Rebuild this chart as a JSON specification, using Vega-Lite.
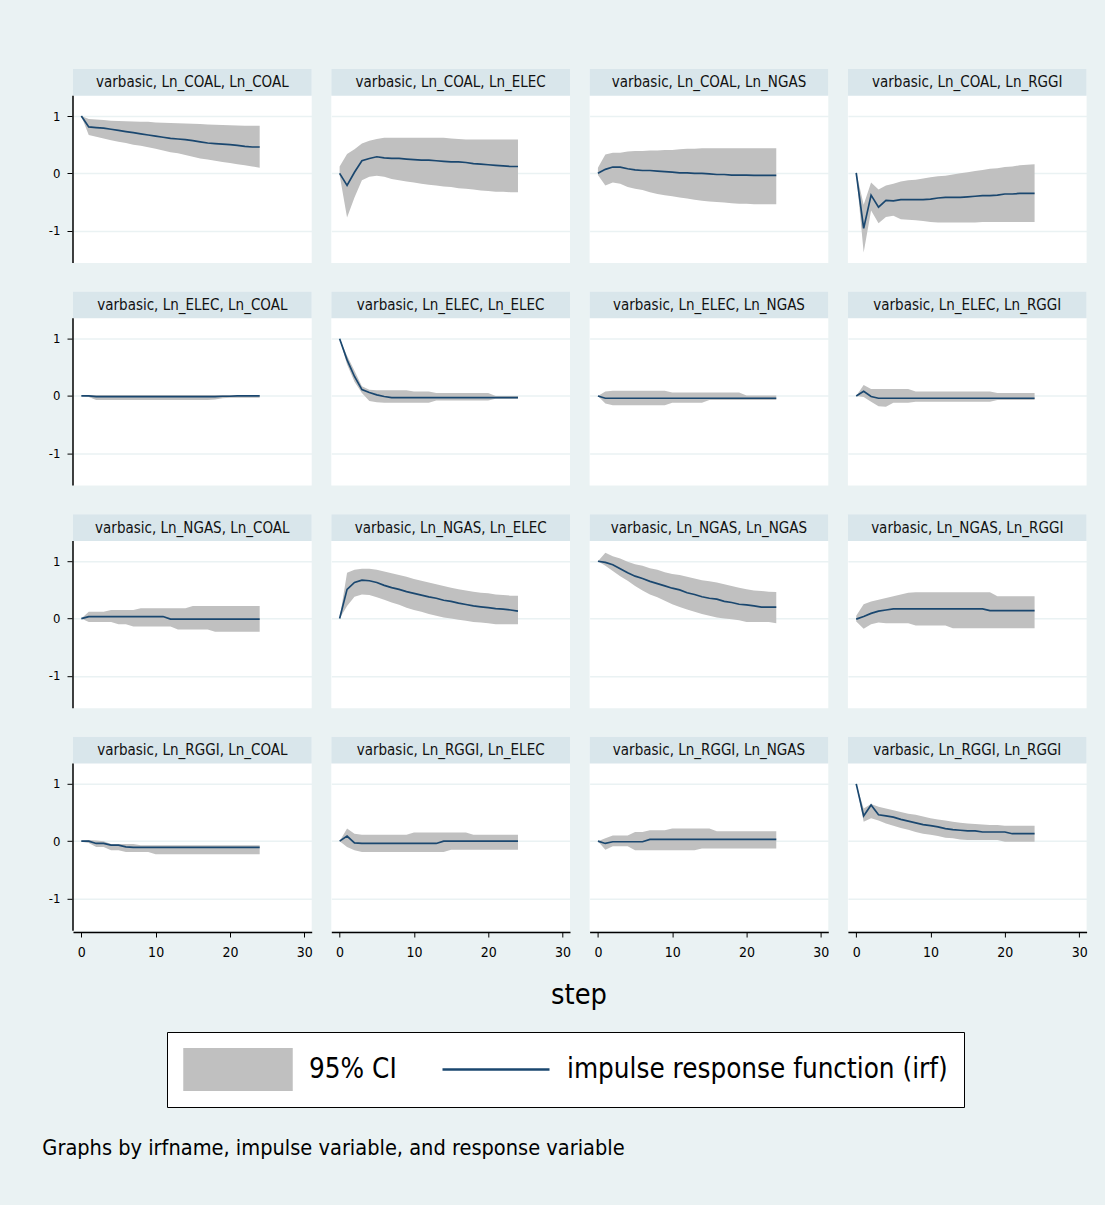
{
"$schema": "https://vega.github.io/schema/vega-lite/v6.json",
"background": "#EAF2F3",
"padding": {"left": 42, "top": 69, "right": 17, "bottom": 45},
"title": {"text": "Graphs by irfname, impulse variable, and response variable", "orient": "bottom", "anchor": "start", "font": "DejaVu Sans Condensed, DejaVu Sans, sans-serif", "fontSize": 21.6, "fontWeight": "normal", "color": "#000000", "offset": 30, "dx": -6},
"data": {"values": [
{"panel":"varbasic, Ln_COAL, Ln_COAL","step":0,"irf":1,"lo":1,"hi":1},
{"panel":"varbasic, Ln_COAL, Ln_COAL","step":1,"irf":0.81,"lo":0.67,"hi":0.95},
{"panel":"varbasic, Ln_COAL, Ln_COAL","step":2,"irf":0.8,"lo":0.64,"hi":0.94},
{"panel":"varbasic, Ln_COAL, Ln_COAL","step":3,"irf":0.79,"lo":0.61,"hi":0.93},
{"panel":"varbasic, Ln_COAL, Ln_COAL","step":4,"irf":0.77,"lo":0.58,"hi":0.92},
{"panel":"varbasic, Ln_COAL, Ln_COAL","step":5,"irf":0.75,"lo":0.55,"hi":0.915},
{"panel":"varbasic, Ln_COAL, Ln_COAL","step":6,"irf":0.73,"lo":0.53,"hi":0.91},
{"panel":"varbasic, Ln_COAL, Ln_COAL","step":7,"irf":0.71,"lo":0.5,"hi":0.905},
{"panel":"varbasic, Ln_COAL, Ln_COAL","step":8,"irf":0.69,"lo":0.48,"hi":0.9},
{"panel":"varbasic, Ln_COAL, Ln_COAL","step":9,"irf":0.67,"lo":0.455,"hi":0.9},
{"panel":"varbasic, Ln_COAL, Ln_COAL","step":10,"irf":0.65,"lo":0.43,"hi":0.89},
{"panel":"varbasic, Ln_COAL, Ln_COAL","step":11,"irf":0.63,"lo":0.4,"hi":0.885},
{"panel":"varbasic, Ln_COAL, Ln_COAL","step":12,"irf":0.61,"lo":0.37,"hi":0.88},
{"panel":"varbasic, Ln_COAL, Ln_COAL","step":13,"irf":0.6,"lo":0.35,"hi":0.875},
{"panel":"varbasic, Ln_COAL, Ln_COAL","step":14,"irf":0.59,"lo":0.32,"hi":0.87},
{"panel":"varbasic, Ln_COAL, Ln_COAL","step":15,"irf":0.57,"lo":0.29,"hi":0.865},
{"panel":"varbasic, Ln_COAL, Ln_COAL","step":16,"irf":0.55,"lo":0.26,"hi":0.86},
{"panel":"varbasic, Ln_COAL, Ln_COAL","step":17,"irf":0.53,"lo":0.24,"hi":0.855},
{"panel":"varbasic, Ln_COAL, Ln_COAL","step":18,"irf":0.52,"lo":0.22,"hi":0.85},
{"panel":"varbasic, Ln_COAL, Ln_COAL","step":19,"irf":0.51,"lo":0.2,"hi":0.845},
{"panel":"varbasic, Ln_COAL, Ln_COAL","step":20,"irf":0.5,"lo":0.18,"hi":0.84},
{"panel":"varbasic, Ln_COAL, Ln_COAL","step":21,"irf":0.49,"lo":0.16,"hi":0.835},
{"panel":"varbasic, Ln_COAL, Ln_COAL","step":22,"irf":0.47,"lo":0.14,"hi":0.83},
{"panel":"varbasic, Ln_COAL, Ln_COAL","step":23,"irf":0.46,"lo":0.12,"hi":0.83},
{"panel":"varbasic, Ln_COAL, Ln_COAL","step":24,"irf":0.46,"lo":0.1,"hi":0.83},
{"panel":"varbasic, Ln_COAL, Ln_ELEC","step":0,"irf":0,"lo":-0.03,"hi":0.12},
{"panel":"varbasic, Ln_COAL, Ln_ELEC","step":1,"irf":-0.21,"lo":-0.77,"hi":0.34},
{"panel":"varbasic, Ln_COAL, Ln_ELEC","step":2,"irf":0.02,"lo":-0.42,"hi":0.42},
{"panel":"varbasic, Ln_COAL, Ln_ELEC","step":3,"irf":0.22,"lo":-0.12,"hi":0.52},
{"panel":"varbasic, Ln_COAL, Ln_ELEC","step":4,"irf":0.26,"lo":-0.06,"hi":0.57},
{"panel":"varbasic, Ln_COAL, Ln_ELEC","step":5,"irf":0.29,"lo":-0.04,"hi":0.6},
{"panel":"varbasic, Ln_COAL, Ln_ELEC","step":6,"irf":0.27,"lo":-0.06,"hi":0.62},
{"panel":"varbasic, Ln_COAL, Ln_ELEC","step":7,"irf":0.26,"lo":-0.1,"hi":0.62},
{"panel":"varbasic, Ln_COAL, Ln_ELEC","step":8,"irf":0.26,"lo":-0.12,"hi":0.62},
{"panel":"varbasic, Ln_COAL, Ln_ELEC","step":9,"irf":0.25,"lo":-0.14,"hi":0.62},
{"panel":"varbasic, Ln_COAL, Ln_ELEC","step":10,"irf":0.24,"lo":-0.16,"hi":0.62},
{"panel":"varbasic, Ln_COAL, Ln_ELEC","step":11,"irf":0.23,"lo":-0.18,"hi":0.62},
{"panel":"varbasic, Ln_COAL, Ln_ELEC","step":12,"irf":0.23,"lo":-0.2,"hi":0.62},
{"panel":"varbasic, Ln_COAL, Ln_ELEC","step":13,"irf":0.22,"lo":-0.21,"hi":0.62},
{"panel":"varbasic, Ln_COAL, Ln_ELEC","step":14,"irf":0.21,"lo":-0.23,"hi":0.62},
{"panel":"varbasic, Ln_COAL, Ln_ELEC","step":15,"irf":0.2,"lo":-0.24,"hi":0.61},
{"panel":"varbasic, Ln_COAL, Ln_ELEC","step":16,"irf":0.2,"lo":-0.26,"hi":0.6},
{"panel":"varbasic, Ln_COAL, Ln_ELEC","step":17,"irf":0.19,"lo":-0.27,"hi":0.59},
{"panel":"varbasic, Ln_COAL, Ln_ELEC","step":18,"irf":0.17,"lo":-0.28,"hi":0.59},
{"panel":"varbasic, Ln_COAL, Ln_ELEC","step":19,"irf":0.16,"lo":-0.3,"hi":0.59},
{"panel":"varbasic, Ln_COAL, Ln_ELEC","step":20,"irf":0.15,"lo":-0.31,"hi":0.59},
{"panel":"varbasic, Ln_COAL, Ln_ELEC","step":21,"irf":0.14,"lo":-0.32,"hi":0.59},
{"panel":"varbasic, Ln_COAL, Ln_ELEC","step":22,"irf":0.13,"lo":-0.32,"hi":0.59},
{"panel":"varbasic, Ln_COAL, Ln_ELEC","step":23,"irf":0.12,"lo":-0.33,"hi":0.59},
{"panel":"varbasic, Ln_COAL, Ln_ELEC","step":24,"irf":0.12,"lo":-0.33,"hi":0.59},
{"panel":"varbasic, Ln_COAL, Ln_NGAS","step":0,"irf":0,"lo":-0.03,"hi":0.1},
{"panel":"varbasic, Ln_COAL, Ln_NGAS","step":1,"irf":0.07,"lo":-0.21,"hi":0.33},
{"panel":"varbasic, Ln_COAL, Ln_NGAS","step":2,"irf":0.11,"lo":-0.16,"hi":0.36},
{"panel":"varbasic, Ln_COAL, Ln_NGAS","step":3,"irf":0.11,"lo":-0.18,"hi":0.36},
{"panel":"varbasic, Ln_COAL, Ln_NGAS","step":4,"irf":0.08,"lo":-0.24,"hi":0.38},
{"panel":"varbasic, Ln_COAL, Ln_NGAS","step":5,"irf":0.06,"lo":-0.27,"hi":0.39},
{"panel":"varbasic, Ln_COAL, Ln_NGAS","step":6,"irf":0.05,"lo":-0.29,"hi":0.39},
{"panel":"varbasic, Ln_COAL, Ln_NGAS","step":7,"irf":0.05,"lo":-0.33,"hi":0.4},
{"panel":"varbasic, Ln_COAL, Ln_NGAS","step":8,"irf":0.04,"lo":-0.36,"hi":0.4},
{"panel":"varbasic, Ln_COAL, Ln_NGAS","step":9,"irf":0.03,"lo":-0.38,"hi":0.41},
{"panel":"varbasic, Ln_COAL, Ln_NGAS","step":10,"irf":0.02,"lo":-0.4,"hi":0.41},
{"panel":"varbasic, Ln_COAL, Ln_NGAS","step":11,"irf":0.01,"lo":-0.42,"hi":0.42},
{"panel":"varbasic, Ln_COAL, Ln_NGAS","step":12,"irf":0.01,"lo":-0.44,"hi":0.43},
{"panel":"varbasic, Ln_COAL, Ln_NGAS","step":13,"irf":0,"lo":-0.46,"hi":0.43},
{"panel":"varbasic, Ln_COAL, Ln_NGAS","step":14,"irf":0,"lo":-0.48,"hi":0.44},
{"panel":"varbasic, Ln_COAL, Ln_NGAS","step":15,"irf":-0.01,"lo":-0.49,"hi":0.44},
{"panel":"varbasic, Ln_COAL, Ln_NGAS","step":16,"irf":-0.02,"lo":-0.5,"hi":0.44},
{"panel":"varbasic, Ln_COAL, Ln_NGAS","step":17,"irf":-0.02,"lo":-0.51,"hi":0.44},
{"panel":"varbasic, Ln_COAL, Ln_NGAS","step":18,"irf":-0.03,"lo":-0.52,"hi":0.44},
{"panel":"varbasic, Ln_COAL, Ln_NGAS","step":19,"irf":-0.03,"lo":-0.53,"hi":0.44},
{"panel":"varbasic, Ln_COAL, Ln_NGAS","step":20,"irf":-0.03,"lo":-0.53,"hi":0.44},
{"panel":"varbasic, Ln_COAL, Ln_NGAS","step":21,"irf":-0.035,"lo":-0.54,"hi":0.44},
{"panel":"varbasic, Ln_COAL, Ln_NGAS","step":22,"irf":-0.035,"lo":-0.54,"hi":0.44},
{"panel":"varbasic, Ln_COAL, Ln_NGAS","step":23,"irf":-0.035,"lo":-0.54,"hi":0.44},
{"panel":"varbasic, Ln_COAL, Ln_NGAS","step":24,"irf":-0.035,"lo":-0.54,"hi":0.44},
{"panel":"varbasic, Ln_COAL, Ln_RGGI","step":0,"irf":0.01,"lo":0,"hi":0.02},
{"panel":"varbasic, Ln_COAL, Ln_RGGI","step":1,"irf":-0.96,"lo":-1.38,"hi":-0.55},
{"panel":"varbasic, Ln_COAL, Ln_RGGI","step":2,"irf":-0.38,"lo":-0.65,"hi":-0.16},
{"panel":"varbasic, Ln_COAL, Ln_RGGI","step":3,"irf":-0.59,"lo":-0.87,"hi":-0.28},
{"panel":"varbasic, Ln_COAL, Ln_RGGI","step":4,"irf":-0.47,"lo":-0.76,"hi":-0.21},
{"panel":"varbasic, Ln_COAL, Ln_RGGI","step":5,"irf":-0.48,"lo":-0.74,"hi":-0.18},
{"panel":"varbasic, Ln_COAL, Ln_RGGI","step":6,"irf":-0.46,"lo":-0.8,"hi":-0.14},
{"panel":"varbasic, Ln_COAL, Ln_RGGI","step":7,"irf":-0.46,"lo":-0.81,"hi":-0.12},
{"panel":"varbasic, Ln_COAL, Ln_RGGI","step":8,"irf":-0.46,"lo":-0.82,"hi":-0.11},
{"panel":"varbasic, Ln_COAL, Ln_RGGI","step":9,"irf":-0.46,"lo":-0.83,"hi":-0.09},
{"panel":"varbasic, Ln_COAL, Ln_RGGI","step":10,"irf":-0.45,"lo":-0.85,"hi":-0.07},
{"panel":"varbasic, Ln_COAL, Ln_RGGI","step":11,"irf":-0.43,"lo":-0.86,"hi":-0.05},
{"panel":"varbasic, Ln_COAL, Ln_RGGI","step":12,"irf":-0.42,"lo":-0.86,"hi":-0.04},
{"panel":"varbasic, Ln_COAL, Ln_RGGI","step":13,"irf":-0.42,"lo":-0.86,"hi":-0.02},
{"panel":"varbasic, Ln_COAL, Ln_RGGI","step":14,"irf":-0.42,"lo":-0.86,"hi":0},
{"panel":"varbasic, Ln_COAL, Ln_RGGI","step":15,"irf":-0.41,"lo":-0.86,"hi":0.02},
{"panel":"varbasic, Ln_COAL, Ln_RGGI","step":16,"irf":-0.4,"lo":-0.86,"hi":0.04},
{"panel":"varbasic, Ln_COAL, Ln_RGGI","step":17,"irf":-0.39,"lo":-0.85,"hi":0.06},
{"panel":"varbasic, Ln_COAL, Ln_RGGI","step":18,"irf":-0.39,"lo":-0.85,"hi":0.08},
{"panel":"varbasic, Ln_COAL, Ln_RGGI","step":19,"irf":-0.38,"lo":-0.85,"hi":0.09},
{"panel":"varbasic, Ln_COAL, Ln_RGGI","step":20,"irf":-0.36,"lo":-0.85,"hi":0.11},
{"panel":"varbasic, Ln_COAL, Ln_RGGI","step":21,"irf":-0.36,"lo":-0.85,"hi":0.12},
{"panel":"varbasic, Ln_COAL, Ln_RGGI","step":22,"irf":-0.35,"lo":-0.85,"hi":0.14},
{"panel":"varbasic, Ln_COAL, Ln_RGGI","step":23,"irf":-0.35,"lo":-0.85,"hi":0.15},
{"panel":"varbasic, Ln_COAL, Ln_RGGI","step":24,"irf":-0.35,"lo":-0.85,"hi":0.16},
{"panel":"varbasic, Ln_ELEC, Ln_COAL","step":0,"irf":0,"lo":0,"hi":0},
{"panel":"varbasic, Ln_ELEC, Ln_COAL","step":1,"irf":0,"lo":-0.02,"hi":0.015},
{"panel":"varbasic, Ln_ELEC, Ln_COAL","step":2,"irf":-0.01,"lo":-0.07,"hi":0.015},
{"panel":"varbasic, Ln_ELEC, Ln_COAL","step":3,"irf":-0.01,"lo":-0.07,"hi":0.015},
{"panel":"varbasic, Ln_ELEC, Ln_COAL","step":4,"irf":-0.01,"lo":-0.07,"hi":0.015},
{"panel":"varbasic, Ln_ELEC, Ln_COAL","step":5,"irf":-0.01,"lo":-0.07,"hi":0.015},
{"panel":"varbasic, Ln_ELEC, Ln_COAL","step":6,"irf":-0.01,"lo":-0.07,"hi":0.015},
{"panel":"varbasic, Ln_ELEC, Ln_COAL","step":7,"irf":-0.01,"lo":-0.07,"hi":0.015},
{"panel":"varbasic, Ln_ELEC, Ln_COAL","step":8,"irf":-0.01,"lo":-0.07,"hi":0.015},
{"panel":"varbasic, Ln_ELEC, Ln_COAL","step":9,"irf":-0.01,"lo":-0.07,"hi":0.015},
{"panel":"varbasic, Ln_ELEC, Ln_COAL","step":10,"irf":-0.01,"lo":-0.07,"hi":0.015},
{"panel":"varbasic, Ln_ELEC, Ln_COAL","step":11,"irf":-0.01,"lo":-0.07,"hi":0.015},
{"panel":"varbasic, Ln_ELEC, Ln_COAL","step":12,"irf":-0.01,"lo":-0.07,"hi":0.015},
{"panel":"varbasic, Ln_ELEC, Ln_COAL","step":13,"irf":-0.01,"lo":-0.07,"hi":0.015},
{"panel":"varbasic, Ln_ELEC, Ln_COAL","step":14,"irf":-0.01,"lo":-0.07,"hi":0.015},
{"panel":"varbasic, Ln_ELEC, Ln_COAL","step":15,"irf":-0.01,"lo":-0.07,"hi":0.015},
{"panel":"varbasic, Ln_ELEC, Ln_COAL","step":16,"irf":-0.01,"lo":-0.07,"hi":0.015},
{"panel":"varbasic, Ln_ELEC, Ln_COAL","step":17,"irf":-0.01,"lo":-0.07,"hi":0.015},
{"panel":"varbasic, Ln_ELEC, Ln_COAL","step":18,"irf":-0.01,"lo":-0.06,"hi":0.015},
{"panel":"varbasic, Ln_ELEC, Ln_COAL","step":19,"irf":-0.005,"lo":-0.04,"hi":0.015},
{"panel":"varbasic, Ln_ELEC, Ln_COAL","step":20,"irf":-0.005,"lo":-0.03,"hi":0.015},
{"panel":"varbasic, Ln_ELEC, Ln_COAL","step":21,"irf":0,"lo":-0.03,"hi":0.015},
{"panel":"varbasic, Ln_ELEC, Ln_COAL","step":22,"irf":0,"lo":-0.03,"hi":0.015},
{"panel":"varbasic, Ln_ELEC, Ln_COAL","step":23,"irf":0,"lo":-0.03,"hi":0.015},
{"panel":"varbasic, Ln_ELEC, Ln_COAL","step":24,"irf":0,"lo":-0.03,"hi":0.015},
{"panel":"varbasic, Ln_ELEC, Ln_ELEC","step":0,"irf":1,"lo":1,"hi":1},
{"panel":"varbasic, Ln_ELEC, Ln_ELEC","step":1,"irf":0.63,"lo":0.55,"hi":0.7},
{"panel":"varbasic, Ln_ELEC, Ln_ELEC","step":2,"irf":0.34,"lo":0.25,"hi":0.44},
{"panel":"varbasic, Ln_ELEC, Ln_ELEC","step":3,"irf":0.11,"lo":0.05,"hi":0.17},
{"panel":"varbasic, Ln_ELEC, Ln_ELEC","step":4,"irf":0.06,"lo":-0.09,"hi":0.11},
{"panel":"varbasic, Ln_ELEC, Ln_ELEC","step":5,"irf":0.02,"lo":-0.11,"hi":0.1},
{"panel":"varbasic, Ln_ELEC, Ln_ELEC","step":6,"irf":-0.01,"lo":-0.12,"hi":0.1},
{"panel":"varbasic, Ln_ELEC, Ln_ELEC","step":7,"irf":-0.03,"lo":-0.12,"hi":0.1},
{"panel":"varbasic, Ln_ELEC, Ln_ELEC","step":8,"irf":-0.03,"lo":-0.12,"hi":0.1},
{"panel":"varbasic, Ln_ELEC, Ln_ELEC","step":9,"irf":-0.03,"lo":-0.12,"hi":0.1},
{"panel":"varbasic, Ln_ELEC, Ln_ELEC","step":10,"irf":-0.03,"lo":-0.12,"hi":0.08},
{"panel":"varbasic, Ln_ELEC, Ln_ELEC","step":11,"irf":-0.03,"lo":-0.12,"hi":0.08},
{"panel":"varbasic, Ln_ELEC, Ln_ELEC","step":12,"irf":-0.03,"lo":-0.12,"hi":0.08},
{"panel":"varbasic, Ln_ELEC, Ln_ELEC","step":13,"irf":-0.03,"lo":-0.08,"hi":0.05},
{"panel":"varbasic, Ln_ELEC, Ln_ELEC","step":14,"irf":-0.03,"lo":-0.08,"hi":0.05},
{"panel":"varbasic, Ln_ELEC, Ln_ELEC","step":15,"irf":-0.03,"lo":-0.08,"hi":0.05},
{"panel":"varbasic, Ln_ELEC, Ln_ELEC","step":16,"irf":-0.03,"lo":-0.08,"hi":0.05},
{"panel":"varbasic, Ln_ELEC, Ln_ELEC","step":17,"irf":-0.03,"lo":-0.08,"hi":0.05},
{"panel":"varbasic, Ln_ELEC, Ln_ELEC","step":18,"irf":-0.03,"lo":-0.08,"hi":0.05},
{"panel":"varbasic, Ln_ELEC, Ln_ELEC","step":19,"irf":-0.03,"lo":-0.08,"hi":0.05},
{"panel":"varbasic, Ln_ELEC, Ln_ELEC","step":20,"irf":-0.03,"lo":-0.08,"hi":0.05},
{"panel":"varbasic, Ln_ELEC, Ln_ELEC","step":21,"irf":-0.03,"lo":-0.05,"hi":0},
{"panel":"varbasic, Ln_ELEC, Ln_ELEC","step":22,"irf":-0.03,"lo":-0.05,"hi":0},
{"panel":"varbasic, Ln_ELEC, Ln_ELEC","step":23,"irf":-0.03,"lo":-0.05,"hi":0},
{"panel":"varbasic, Ln_ELEC, Ln_ELEC","step":24,"irf":-0.03,"lo":-0.05,"hi":0},
{"panel":"varbasic, Ln_ELEC, Ln_NGAS","step":0,"irf":0,"lo":0,"hi":0},
{"panel":"varbasic, Ln_ELEC, Ln_NGAS","step":1,"irf":-0.04,"lo":-0.13,"hi":0.08},
{"panel":"varbasic, Ln_ELEC, Ln_NGAS","step":2,"irf":-0.04,"lo":-0.16,"hi":0.09},
{"panel":"varbasic, Ln_ELEC, Ln_NGAS","step":3,"irf":-0.04,"lo":-0.16,"hi":0.09},
{"panel":"varbasic, Ln_ELEC, Ln_NGAS","step":4,"irf":-0.04,"lo":-0.16,"hi":0.09},
{"panel":"varbasic, Ln_ELEC, Ln_NGAS","step":5,"irf":-0.04,"lo":-0.16,"hi":0.09},
{"panel":"varbasic, Ln_ELEC, Ln_NGAS","step":6,"irf":-0.04,"lo":-0.16,"hi":0.09},
{"panel":"varbasic, Ln_ELEC, Ln_NGAS","step":7,"irf":-0.04,"lo":-0.16,"hi":0.09},
{"panel":"varbasic, Ln_ELEC, Ln_NGAS","step":8,"irf":-0.04,"lo":-0.16,"hi":0.09},
{"panel":"varbasic, Ln_ELEC, Ln_NGAS","step":9,"irf":-0.04,"lo":-0.16,"hi":0.09},
{"panel":"varbasic, Ln_ELEC, Ln_NGAS","step":10,"irf":-0.04,"lo":-0.12,"hi":0.06},
{"panel":"varbasic, Ln_ELEC, Ln_NGAS","step":11,"irf":-0.04,"lo":-0.12,"hi":0.06},
{"panel":"varbasic, Ln_ELEC, Ln_NGAS","step":12,"irf":-0.04,"lo":-0.12,"hi":0.06},
{"panel":"varbasic, Ln_ELEC, Ln_NGAS","step":13,"irf":-0.04,"lo":-0.12,"hi":0.06},
{"panel":"varbasic, Ln_ELEC, Ln_NGAS","step":14,"irf":-0.04,"lo":-0.12,"hi":0.06},
{"panel":"varbasic, Ln_ELEC, Ln_NGAS","step":15,"irf":-0.04,"lo":-0.07,"hi":0.06},
{"panel":"varbasic, Ln_ELEC, Ln_NGAS","step":16,"irf":-0.04,"lo":-0.07,"hi":0.06},
{"panel":"varbasic, Ln_ELEC, Ln_NGAS","step":17,"irf":-0.04,"lo":-0.07,"hi":0.06},
{"panel":"varbasic, Ln_ELEC, Ln_NGAS","step":18,"irf":-0.04,"lo":-0.07,"hi":0.06},
{"panel":"varbasic, Ln_ELEC, Ln_NGAS","step":19,"irf":-0.04,"lo":-0.07,"hi":0.06},
{"panel":"varbasic, Ln_ELEC, Ln_NGAS","step":20,"irf":-0.04,"lo":-0.07,"hi":0.01},
{"panel":"varbasic, Ln_ELEC, Ln_NGAS","step":21,"irf":-0.04,"lo":-0.07,"hi":0.01},
{"panel":"varbasic, Ln_ELEC, Ln_NGAS","step":22,"irf":-0.04,"lo":-0.07,"hi":0.01},
{"panel":"varbasic, Ln_ELEC, Ln_NGAS","step":23,"irf":-0.04,"lo":-0.07,"hi":0.01},
{"panel":"varbasic, Ln_ELEC, Ln_NGAS","step":24,"irf":-0.04,"lo":-0.07,"hi":0.01},
{"panel":"varbasic, Ln_ELEC, Ln_RGGI","step":0,"irf":0,"lo":0,"hi":0},
{"panel":"varbasic, Ln_ELEC, Ln_RGGI","step":1,"irf":0.08,"lo":-0.02,"hi":0.19},
{"panel":"varbasic, Ln_ELEC, Ln_RGGI","step":2,"irf":-0.01,"lo":-0.1,"hi":0.12},
{"panel":"varbasic, Ln_ELEC, Ln_RGGI","step":3,"irf":-0.04,"lo":-0.18,"hi":0.12},
{"panel":"varbasic, Ln_ELEC, Ln_RGGI","step":4,"irf":-0.04,"lo":-0.19,"hi":0.12},
{"panel":"varbasic, Ln_ELEC, Ln_RGGI","step":5,"irf":-0.04,"lo":-0.12,"hi":0.12},
{"panel":"varbasic, Ln_ELEC, Ln_RGGI","step":6,"irf":-0.04,"lo":-0.12,"hi":0.12},
{"panel":"varbasic, Ln_ELEC, Ln_RGGI","step":7,"irf":-0.04,"lo":-0.12,"hi":0.12},
{"panel":"varbasic, Ln_ELEC, Ln_RGGI","step":8,"irf":-0.04,"lo":-0.1,"hi":0.08},
{"panel":"varbasic, Ln_ELEC, Ln_RGGI","step":9,"irf":-0.04,"lo":-0.1,"hi":0.08},
{"panel":"varbasic, Ln_ELEC, Ln_RGGI","step":10,"irf":-0.04,"lo":-0.1,"hi":0.08},
{"panel":"varbasic, Ln_ELEC, Ln_RGGI","step":11,"irf":-0.04,"lo":-0.1,"hi":0.08},
{"panel":"varbasic, Ln_ELEC, Ln_RGGI","step":12,"irf":-0.04,"lo":-0.1,"hi":0.08},
{"panel":"varbasic, Ln_ELEC, Ln_RGGI","step":13,"irf":-0.04,"lo":-0.1,"hi":0.08},
{"panel":"varbasic, Ln_ELEC, Ln_RGGI","step":14,"irf":-0.04,"lo":-0.1,"hi":0.08},
{"panel":"varbasic, Ln_ELEC, Ln_RGGI","step":15,"irf":-0.04,"lo":-0.1,"hi":0.08},
{"panel":"varbasic, Ln_ELEC, Ln_RGGI","step":16,"irf":-0.04,"lo":-0.1,"hi":0.08},
{"panel":"varbasic, Ln_ELEC, Ln_RGGI","step":17,"irf":-0.04,"lo":-0.1,"hi":0.08},
{"panel":"varbasic, Ln_ELEC, Ln_RGGI","step":18,"irf":-0.04,"lo":-0.1,"hi":0.08},
{"panel":"varbasic, Ln_ELEC, Ln_RGGI","step":19,"irf":-0.04,"lo":-0.07,"hi":0.05},
{"panel":"varbasic, Ln_ELEC, Ln_RGGI","step":20,"irf":-0.04,"lo":-0.07,"hi":0.05},
{"panel":"varbasic, Ln_ELEC, Ln_RGGI","step":21,"irf":-0.04,"lo":-0.07,"hi":0.05},
{"panel":"varbasic, Ln_ELEC, Ln_RGGI","step":22,"irf":-0.04,"lo":-0.07,"hi":0.05},
{"panel":"varbasic, Ln_ELEC, Ln_RGGI","step":23,"irf":-0.04,"lo":-0.07,"hi":0.05},
{"panel":"varbasic, Ln_ELEC, Ln_RGGI","step":24,"irf":-0.04,"lo":-0.07,"hi":0.05},
{"panel":"varbasic, Ln_NGAS, Ln_COAL","step":0,"irf":0,"lo":0,"hi":0},
{"panel":"varbasic, Ln_NGAS, Ln_COAL","step":1,"irf":0.035,"lo":-0.06,"hi":0.12},
{"panel":"varbasic, Ln_NGAS, Ln_COAL","step":2,"irf":0.035,"lo":-0.06,"hi":0.12},
{"panel":"varbasic, Ln_NGAS, Ln_COAL","step":3,"irf":0.035,"lo":-0.06,"hi":0.12},
{"panel":"varbasic, Ln_NGAS, Ln_COAL","step":4,"irf":0.035,"lo":-0.06,"hi":0.15},
{"panel":"varbasic, Ln_NGAS, Ln_COAL","step":5,"irf":0.035,"lo":-0.1,"hi":0.15},
{"panel":"varbasic, Ln_NGAS, Ln_COAL","step":6,"irf":0.035,"lo":-0.1,"hi":0.15},
{"panel":"varbasic, Ln_NGAS, Ln_COAL","step":7,"irf":0.035,"lo":-0.14,"hi":0.15},
{"panel":"varbasic, Ln_NGAS, Ln_COAL","step":8,"irf":0.035,"lo":-0.14,"hi":0.18},
{"panel":"varbasic, Ln_NGAS, Ln_COAL","step":9,"irf":0.035,"lo":-0.14,"hi":0.18},
{"panel":"varbasic, Ln_NGAS, Ln_COAL","step":10,"irf":0.035,"lo":-0.14,"hi":0.18},
{"panel":"varbasic, Ln_NGAS, Ln_COAL","step":11,"irf":0.035,"lo":-0.14,"hi":0.18},
{"panel":"varbasic, Ln_NGAS, Ln_COAL","step":12,"irf":-0.01,"lo":-0.14,"hi":0.18},
{"panel":"varbasic, Ln_NGAS, Ln_COAL","step":13,"irf":-0.01,"lo":-0.19,"hi":0.18},
{"panel":"varbasic, Ln_NGAS, Ln_COAL","step":14,"irf":-0.01,"lo":-0.19,"hi":0.18},
{"panel":"varbasic, Ln_NGAS, Ln_COAL","step":15,"irf":-0.01,"lo":-0.19,"hi":0.22},
{"panel":"varbasic, Ln_NGAS, Ln_COAL","step":16,"irf":-0.01,"lo":-0.19,"hi":0.22},
{"panel":"varbasic, Ln_NGAS, Ln_COAL","step":17,"irf":-0.01,"lo":-0.19,"hi":0.22},
{"panel":"varbasic, Ln_NGAS, Ln_COAL","step":18,"irf":-0.01,"lo":-0.23,"hi":0.22},
{"panel":"varbasic, Ln_NGAS, Ln_COAL","step":19,"irf":-0.01,"lo":-0.23,"hi":0.22},
{"panel":"varbasic, Ln_NGAS, Ln_COAL","step":20,"irf":-0.01,"lo":-0.23,"hi":0.22},
{"panel":"varbasic, Ln_NGAS, Ln_COAL","step":21,"irf":-0.01,"lo":-0.23,"hi":0.22},
{"panel":"varbasic, Ln_NGAS, Ln_COAL","step":22,"irf":-0.01,"lo":-0.23,"hi":0.22},
{"panel":"varbasic, Ln_NGAS, Ln_COAL","step":23,"irf":-0.01,"lo":-0.23,"hi":0.22},
{"panel":"varbasic, Ln_NGAS, Ln_COAL","step":24,"irf":-0.01,"lo":-0.23,"hi":0.22},
{"panel":"varbasic, Ln_NGAS, Ln_ELEC","step":0,"irf":0,"lo":0,"hi":0},
{"panel":"varbasic, Ln_NGAS, Ln_ELEC","step":1,"irf":0.51,"lo":0.22,"hi":0.8},
{"panel":"varbasic, Ln_NGAS, Ln_ELEC","step":2,"irf":0.63,"lo":0.38,"hi":0.85},
{"panel":"varbasic, Ln_NGAS, Ln_ELEC","step":3,"irf":0.67,"lo":0.42,"hi":0.87},
{"panel":"varbasic, Ln_NGAS, Ln_ELEC","step":4,"irf":0.66,"lo":0.41,"hi":0.87},
{"panel":"varbasic, Ln_NGAS, Ln_ELEC","step":5,"irf":0.63,"lo":0.37,"hi":0.85},
{"panel":"varbasic, Ln_NGAS, Ln_ELEC","step":6,"irf":0.58,"lo":0.33,"hi":0.82},
{"panel":"varbasic, Ln_NGAS, Ln_ELEC","step":7,"irf":0.54,"lo":0.28,"hi":0.79},
{"panel":"varbasic, Ln_NGAS, Ln_ELEC","step":8,"irf":0.51,"lo":0.24,"hi":0.76},
{"panel":"varbasic, Ln_NGAS, Ln_ELEC","step":9,"irf":0.47,"lo":0.19,"hi":0.73},
{"panel":"varbasic, Ln_NGAS, Ln_ELEC","step":10,"irf":0.44,"lo":0.15,"hi":0.69},
{"panel":"varbasic, Ln_NGAS, Ln_ELEC","step":11,"irf":0.41,"lo":0.12,"hi":0.66},
{"panel":"varbasic, Ln_NGAS, Ln_ELEC","step":12,"irf":0.38,"lo":0.08,"hi":0.63},
{"panel":"varbasic, Ln_NGAS, Ln_ELEC","step":13,"irf":0.355,"lo":0.05,"hi":0.6},
{"panel":"varbasic, Ln_NGAS, Ln_ELEC","step":14,"irf":0.32,"lo":0.02,"hi":0.57},
{"panel":"varbasic, Ln_NGAS, Ln_ELEC","step":15,"irf":0.3,"lo":0,"hi":0.54},
{"panel":"varbasic, Ln_NGAS, Ln_ELEC","step":16,"irf":0.27,"lo":-0.02,"hi":0.51},
{"panel":"varbasic, Ln_NGAS, Ln_ELEC","step":17,"irf":0.245,"lo":-0.04,"hi":0.49},
{"panel":"varbasic, Ln_NGAS, Ln_ELEC","step":18,"irf":0.22,"lo":-0.06,"hi":0.47},
{"panel":"varbasic, Ln_NGAS, Ln_ELEC","step":19,"irf":0.205,"lo":-0.07,"hi":0.45},
{"panel":"varbasic, Ln_NGAS, Ln_ELEC","step":20,"irf":0.19,"lo":-0.08,"hi":0.44},
{"panel":"varbasic, Ln_NGAS, Ln_ELEC","step":21,"irf":0.175,"lo":-0.1,"hi":0.42},
{"panel":"varbasic, Ln_NGAS, Ln_ELEC","step":22,"irf":0.165,"lo":-0.1,"hi":0.41},
{"panel":"varbasic, Ln_NGAS, Ln_ELEC","step":23,"irf":0.15,"lo":-0.1,"hi":0.4},
{"panel":"varbasic, Ln_NGAS, Ln_ELEC","step":24,"irf":0.13,"lo":-0.1,"hi":0.4},
{"panel":"varbasic, Ln_NGAS, Ln_NGAS","step":0,"irf":1,"lo":1,"hi":1},
{"panel":"varbasic, Ln_NGAS, Ln_NGAS","step":1,"irf":0.98,"lo":0.92,"hi":1.15},
{"panel":"varbasic, Ln_NGAS, Ln_NGAS","step":2,"irf":0.94,"lo":0.83,"hi":1.09},
{"panel":"varbasic, Ln_NGAS, Ln_NGAS","step":3,"irf":0.87,"lo":0.74,"hi":1.05},
{"panel":"varbasic, Ln_NGAS, Ln_NGAS","step":4,"irf":0.8,"lo":0.66,"hi":0.99},
{"panel":"varbasic, Ln_NGAS, Ln_NGAS","step":5,"irf":0.74,"lo":0.57,"hi":0.95},
{"panel":"varbasic, Ln_NGAS, Ln_NGAS","step":6,"irf":0.7,"lo":0.49,"hi":0.92},
{"panel":"varbasic, Ln_NGAS, Ln_NGAS","step":7,"irf":0.65,"lo":0.42,"hi":0.88},
{"panel":"varbasic, Ln_NGAS, Ln_NGAS","step":8,"irf":0.61,"lo":0.37,"hi":0.85},
{"panel":"varbasic, Ln_NGAS, Ln_NGAS","step":9,"irf":0.57,"lo":0.31,"hi":0.81},
{"panel":"varbasic, Ln_NGAS, Ln_NGAS","step":10,"irf":0.53,"lo":0.25,"hi":0.78},
{"panel":"varbasic, Ln_NGAS, Ln_NGAS","step":11,"irf":0.5,"lo":0.2,"hi":0.76},
{"panel":"varbasic, Ln_NGAS, Ln_NGAS","step":12,"irf":0.45,"lo":0.16,"hi":0.73},
{"panel":"varbasic, Ln_NGAS, Ln_NGAS","step":13,"irf":0.42,"lo":0.12,"hi":0.7},
{"panel":"varbasic, Ln_NGAS, Ln_NGAS","step":14,"irf":0.38,"lo":0.08,"hi":0.67},
{"panel":"varbasic, Ln_NGAS, Ln_NGAS","step":15,"irf":0.355,"lo":0.05,"hi":0.65},
{"panel":"varbasic, Ln_NGAS, Ln_NGAS","step":16,"irf":0.34,"lo":0.02,"hi":0.63},
{"panel":"varbasic, Ln_NGAS, Ln_NGAS","step":17,"irf":0.3,"lo":0,"hi":0.6},
{"panel":"varbasic, Ln_NGAS, Ln_NGAS","step":18,"irf":0.28,"lo":-0.01,"hi":0.57},
{"panel":"varbasic, Ln_NGAS, Ln_NGAS","step":19,"irf":0.25,"lo":-0.03,"hi":0.54},
{"panel":"varbasic, Ln_NGAS, Ln_NGAS","step":20,"irf":0.24,"lo":-0.06,"hi":0.51},
{"panel":"varbasic, Ln_NGAS, Ln_NGAS","step":21,"irf":0.22,"lo":-0.06,"hi":0.49},
{"panel":"varbasic, Ln_NGAS, Ln_NGAS","step":22,"irf":0.2,"lo":-0.06,"hi":0.48},
{"panel":"varbasic, Ln_NGAS, Ln_NGAS","step":23,"irf":0.2,"lo":-0.06,"hi":0.47},
{"panel":"varbasic, Ln_NGAS, Ln_NGAS","step":24,"irf":0.2,"lo":-0.08,"hi":0.465},
{"panel":"varbasic, Ln_NGAS, Ln_RGGI","step":0,"irf":-0.01,"lo":-0.05,"hi":0.05},
{"panel":"varbasic, Ln_NGAS, Ln_RGGI","step":1,"irf":0.035,"lo":-0.18,"hi":0.25},
{"panel":"varbasic, Ln_NGAS, Ln_RGGI","step":2,"irf":0.09,"lo":-0.1,"hi":0.3},
{"panel":"varbasic, Ln_NGAS, Ln_RGGI","step":3,"irf":0.13,"lo":-0.07,"hi":0.33},
{"panel":"varbasic, Ln_NGAS, Ln_RGGI","step":4,"irf":0.15,"lo":-0.08,"hi":0.36},
{"panel":"varbasic, Ln_NGAS, Ln_RGGI","step":5,"irf":0.17,"lo":-0.08,"hi":0.39},
{"panel":"varbasic, Ln_NGAS, Ln_RGGI","step":6,"irf":0.17,"lo":-0.08,"hi":0.42},
{"panel":"varbasic, Ln_NGAS, Ln_RGGI","step":7,"irf":0.17,"lo":-0.08,"hi":0.45},
{"panel":"varbasic, Ln_NGAS, Ln_RGGI","step":8,"irf":0.17,"lo":-0.12,"hi":0.46},
{"panel":"varbasic, Ln_NGAS, Ln_RGGI","step":9,"irf":0.17,"lo":-0.12,"hi":0.46},
{"panel":"varbasic, Ln_NGAS, Ln_RGGI","step":10,"irf":0.17,"lo":-0.12,"hi":0.46},
{"panel":"varbasic, Ln_NGAS, Ln_RGGI","step":11,"irf":0.17,"lo":-0.12,"hi":0.46},
{"panel":"varbasic, Ln_NGAS, Ln_RGGI","step":12,"irf":0.17,"lo":-0.12,"hi":0.46},
{"panel":"varbasic, Ln_NGAS, Ln_RGGI","step":13,"irf":0.17,"lo":-0.17,"hi":0.46},
{"panel":"varbasic, Ln_NGAS, Ln_RGGI","step":14,"irf":0.17,"lo":-0.17,"hi":0.46},
{"panel":"varbasic, Ln_NGAS, Ln_RGGI","step":15,"irf":0.17,"lo":-0.17,"hi":0.46},
{"panel":"varbasic, Ln_NGAS, Ln_RGGI","step":16,"irf":0.17,"lo":-0.17,"hi":0.46},
{"panel":"varbasic, Ln_NGAS, Ln_RGGI","step":17,"irf":0.17,"lo":-0.17,"hi":0.46},
{"panel":"varbasic, Ln_NGAS, Ln_RGGI","step":18,"irf":0.14,"lo":-0.17,"hi":0.46},
{"panel":"varbasic, Ln_NGAS, Ln_RGGI","step":19,"irf":0.14,"lo":-0.17,"hi":0.39},
{"panel":"varbasic, Ln_NGAS, Ln_RGGI","step":20,"irf":0.14,"lo":-0.17,"hi":0.39},
{"panel":"varbasic, Ln_NGAS, Ln_RGGI","step":21,"irf":0.14,"lo":-0.17,"hi":0.39},
{"panel":"varbasic, Ln_NGAS, Ln_RGGI","step":22,"irf":0.14,"lo":-0.17,"hi":0.39},
{"panel":"varbasic, Ln_NGAS, Ln_RGGI","step":23,"irf":0.14,"lo":-0.17,"hi":0.39},
{"panel":"varbasic, Ln_NGAS, Ln_RGGI","step":24,"irf":0.14,"lo":-0.17,"hi":0.39},
{"panel":"varbasic, Ln_RGGI, Ln_COAL","step":0,"irf":0,"lo":-0.01,"hi":0.01},
{"panel":"varbasic, Ln_RGGI, Ln_COAL","step":1,"irf":0,"lo":-0.03,"hi":0.02},
{"panel":"varbasic, Ln_RGGI, Ln_COAL","step":2,"irf":-0.04,"lo":-0.1,"hi":0.01},
{"panel":"varbasic, Ln_RGGI, Ln_COAL","step":3,"irf":-0.04,"lo":-0.1,"hi":0},
{"panel":"varbasic, Ln_RGGI, Ln_COAL","step":4,"irf":-0.07,"lo":-0.16,"hi":-0.05},
{"panel":"varbasic, Ln_RGGI, Ln_COAL","step":5,"irf":-0.07,"lo":-0.16,"hi":-0.05},
{"panel":"varbasic, Ln_RGGI, Ln_COAL","step":6,"irf":-0.1,"lo":-0.19,"hi":-0.05},
{"panel":"varbasic, Ln_RGGI, Ln_COAL","step":7,"irf":-0.11,"lo":-0.19,"hi":-0.05},
{"panel":"varbasic, Ln_RGGI, Ln_COAL","step":8,"irf":-0.11,"lo":-0.19,"hi":-0.07},
{"panel":"varbasic, Ln_RGGI, Ln_COAL","step":9,"irf":-0.11,"lo":-0.19,"hi":-0.07},
{"panel":"varbasic, Ln_RGGI, Ln_COAL","step":10,"irf":-0.11,"lo":-0.23,"hi":-0.07},
{"panel":"varbasic, Ln_RGGI, Ln_COAL","step":11,"irf":-0.11,"lo":-0.23,"hi":-0.07},
{"panel":"varbasic, Ln_RGGI, Ln_COAL","step":12,"irf":-0.11,"lo":-0.23,"hi":-0.07},
{"panel":"varbasic, Ln_RGGI, Ln_COAL","step":13,"irf":-0.11,"lo":-0.23,"hi":-0.07},
{"panel":"varbasic, Ln_RGGI, Ln_COAL","step":14,"irf":-0.11,"lo":-0.23,"hi":-0.07},
{"panel":"varbasic, Ln_RGGI, Ln_COAL","step":15,"irf":-0.11,"lo":-0.23,"hi":-0.07},
{"panel":"varbasic, Ln_RGGI, Ln_COAL","step":16,"irf":-0.11,"lo":-0.23,"hi":-0.07},
{"panel":"varbasic, Ln_RGGI, Ln_COAL","step":17,"irf":-0.11,"lo":-0.23,"hi":-0.07},
{"panel":"varbasic, Ln_RGGI, Ln_COAL","step":18,"irf":-0.11,"lo":-0.23,"hi":-0.07},
{"panel":"varbasic, Ln_RGGI, Ln_COAL","step":19,"irf":-0.11,"lo":-0.23,"hi":-0.07},
{"panel":"varbasic, Ln_RGGI, Ln_COAL","step":20,"irf":-0.11,"lo":-0.23,"hi":-0.07},
{"panel":"varbasic, Ln_RGGI, Ln_COAL","step":21,"irf":-0.11,"lo":-0.23,"hi":-0.07},
{"panel":"varbasic, Ln_RGGI, Ln_COAL","step":22,"irf":-0.11,"lo":-0.23,"hi":-0.07},
{"panel":"varbasic, Ln_RGGI, Ln_COAL","step":23,"irf":-0.11,"lo":-0.23,"hi":-0.07},
{"panel":"varbasic, Ln_RGGI, Ln_COAL","step":24,"irf":-0.11,"lo":-0.23,"hi":-0.07},
{"panel":"varbasic, Ln_RGGI, Ln_ELEC","step":0,"irf":0,"lo":0,"hi":0},
{"panel":"varbasic, Ln_RGGI, Ln_ELEC","step":1,"irf":0.09,"lo":-0.1,"hi":0.22},
{"panel":"varbasic, Ln_RGGI, Ln_ELEC","step":2,"irf":-0.03,"lo":-0.16,"hi":0.13},
{"panel":"varbasic, Ln_RGGI, Ln_ELEC","step":3,"irf":-0.04,"lo":-0.19,"hi":0.11},
{"panel":"varbasic, Ln_RGGI, Ln_ELEC","step":4,"irf":-0.04,"lo":-0.19,"hi":0.11},
{"panel":"varbasic, Ln_RGGI, Ln_ELEC","step":5,"irf":-0.04,"lo":-0.19,"hi":0.11},
{"panel":"varbasic, Ln_RGGI, Ln_ELEC","step":6,"irf":-0.04,"lo":-0.19,"hi":0.11},
{"panel":"varbasic, Ln_RGGI, Ln_ELEC","step":7,"irf":-0.04,"lo":-0.19,"hi":0.11},
{"panel":"varbasic, Ln_RGGI, Ln_ELEC","step":8,"irf":-0.04,"lo":-0.19,"hi":0.11},
{"panel":"varbasic, Ln_RGGI, Ln_ELEC","step":9,"irf":-0.04,"lo":-0.19,"hi":0.11},
{"panel":"varbasic, Ln_RGGI, Ln_ELEC","step":10,"irf":-0.04,"lo":-0.19,"hi":0.15},
{"panel":"varbasic, Ln_RGGI, Ln_ELEC","step":11,"irf":-0.04,"lo":-0.19,"hi":0.15},
{"panel":"varbasic, Ln_RGGI, Ln_ELEC","step":12,"irf":-0.04,"lo":-0.19,"hi":0.15},
{"panel":"varbasic, Ln_RGGI, Ln_ELEC","step":13,"irf":-0.04,"lo":-0.19,"hi":0.15},
{"panel":"varbasic, Ln_RGGI, Ln_ELEC","step":14,"irf":0,"lo":-0.19,"hi":0.15},
{"panel":"varbasic, Ln_RGGI, Ln_ELEC","step":15,"irf":0,"lo":-0.15,"hi":0.15},
{"panel":"varbasic, Ln_RGGI, Ln_ELEC","step":16,"irf":0,"lo":-0.15,"hi":0.15},
{"panel":"varbasic, Ln_RGGI, Ln_ELEC","step":17,"irf":0,"lo":-0.15,"hi":0.15},
{"panel":"varbasic, Ln_RGGI, Ln_ELEC","step":18,"irf":0,"lo":-0.15,"hi":0.11},
{"panel":"varbasic, Ln_RGGI, Ln_ELEC","step":19,"irf":0,"lo":-0.15,"hi":0.11},
{"panel":"varbasic, Ln_RGGI, Ln_ELEC","step":20,"irf":0,"lo":-0.15,"hi":0.11},
{"panel":"varbasic, Ln_RGGI, Ln_ELEC","step":21,"irf":0,"lo":-0.15,"hi":0.11},
{"panel":"varbasic, Ln_RGGI, Ln_ELEC","step":22,"irf":0,"lo":-0.15,"hi":0.11},
{"panel":"varbasic, Ln_RGGI, Ln_ELEC","step":23,"irf":0,"lo":-0.15,"hi":0.11},
{"panel":"varbasic, Ln_RGGI, Ln_ELEC","step":24,"irf":0,"lo":-0.15,"hi":0.11},
{"panel":"varbasic, Ln_RGGI, Ln_NGAS","step":0,"irf":0,"lo":0,"hi":0},
{"panel":"varbasic, Ln_RGGI, Ln_NGAS","step":1,"irf":-0.04,"lo":-0.15,"hi":0.05},
{"panel":"varbasic, Ln_RGGI, Ln_NGAS","step":2,"irf":-0.01,"lo":-0.09,"hi":0.1},
{"panel":"varbasic, Ln_RGGI, Ln_NGAS","step":3,"irf":-0.01,"lo":-0.09,"hi":0.1},
{"panel":"varbasic, Ln_RGGI, Ln_NGAS","step":4,"irf":-0.01,"lo":-0.09,"hi":0.1},
{"panel":"varbasic, Ln_RGGI, Ln_NGAS","step":5,"irf":-0.01,"lo":-0.16,"hi":0.16},
{"panel":"varbasic, Ln_RGGI, Ln_NGAS","step":6,"irf":-0.01,"lo":-0.16,"hi":0.16},
{"panel":"varbasic, Ln_RGGI, Ln_NGAS","step":7,"irf":0.03,"lo":-0.16,"hi":0.19},
{"panel":"varbasic, Ln_RGGI, Ln_NGAS","step":8,"irf":0.03,"lo":-0.16,"hi":0.19},
{"panel":"varbasic, Ln_RGGI, Ln_NGAS","step":9,"irf":0.03,"lo":-0.16,"hi":0.19},
{"panel":"varbasic, Ln_RGGI, Ln_NGAS","step":10,"irf":0.03,"lo":-0.16,"hi":0.22},
{"panel":"varbasic, Ln_RGGI, Ln_NGAS","step":11,"irf":0.03,"lo":-0.16,"hi":0.22},
{"panel":"varbasic, Ln_RGGI, Ln_NGAS","step":12,"irf":0.03,"lo":-0.16,"hi":0.22},
{"panel":"varbasic, Ln_RGGI, Ln_NGAS","step":13,"irf":0.03,"lo":-0.16,"hi":0.22},
{"panel":"varbasic, Ln_RGGI, Ln_NGAS","step":14,"irf":0.03,"lo":-0.13,"hi":0.22},
{"panel":"varbasic, Ln_RGGI, Ln_NGAS","step":15,"irf":0.03,"lo":-0.13,"hi":0.22},
{"panel":"varbasic, Ln_RGGI, Ln_NGAS","step":16,"irf":0.03,"lo":-0.13,"hi":0.175},
{"panel":"varbasic, Ln_RGGI, Ln_NGAS","step":17,"irf":0.03,"lo":-0.13,"hi":0.175},
{"panel":"varbasic, Ln_RGGI, Ln_NGAS","step":18,"irf":0.03,"lo":-0.13,"hi":0.175},
{"panel":"varbasic, Ln_RGGI, Ln_NGAS","step":19,"irf":0.03,"lo":-0.13,"hi":0.175},
{"panel":"varbasic, Ln_RGGI, Ln_NGAS","step":20,"irf":0.03,"lo":-0.13,"hi":0.175},
{"panel":"varbasic, Ln_RGGI, Ln_NGAS","step":21,"irf":0.03,"lo":-0.13,"hi":0.175},
{"panel":"varbasic, Ln_RGGI, Ln_NGAS","step":22,"irf":0.03,"lo":-0.13,"hi":0.175},
{"panel":"varbasic, Ln_RGGI, Ln_NGAS","step":23,"irf":0.03,"lo":-0.13,"hi":0.175},
{"panel":"varbasic, Ln_RGGI, Ln_NGAS","step":24,"irf":0.03,"lo":-0.13,"hi":0.175},
{"panel":"varbasic, Ln_RGGI, Ln_RGGI","step":0,"irf":1,"lo":1,"hi":1},
{"panel":"varbasic, Ln_RGGI, Ln_RGGI","step":1,"irf":0.44,"lo":0.34,"hi":0.57},
{"panel":"varbasic, Ln_RGGI, Ln_RGGI","step":2,"irf":0.63,"lo":0.4,"hi":0.65},
{"panel":"varbasic, Ln_RGGI, Ln_RGGI","step":3,"irf":0.46,"lo":0.36,"hi":0.6},
{"panel":"varbasic, Ln_RGGI, Ln_RGGI","step":4,"irf":0.44,"lo":0.31,"hi":0.57},
{"panel":"varbasic, Ln_RGGI, Ln_RGGI","step":5,"irf":0.42,"lo":0.27,"hi":0.54},
{"panel":"varbasic, Ln_RGGI, Ln_RGGI","step":6,"irf":0.38,"lo":0.23,"hi":0.51},
{"panel":"varbasic, Ln_RGGI, Ln_RGGI","step":7,"irf":0.35,"lo":0.2,"hi":0.48},
{"panel":"varbasic, Ln_RGGI, Ln_RGGI","step":8,"irf":0.32,"lo":0.16,"hi":0.46},
{"panel":"varbasic, Ln_RGGI, Ln_RGGI","step":9,"irf":0.29,"lo":0.13,"hi":0.43},
{"panel":"varbasic, Ln_RGGI, Ln_RGGI","step":10,"irf":0.27,"lo":0.11,"hi":0.4},
{"panel":"varbasic, Ln_RGGI, Ln_RGGI","step":11,"irf":0.25,"lo":0.09,"hi":0.38},
{"panel":"varbasic, Ln_RGGI, Ln_RGGI","step":12,"irf":0.22,"lo":0.06,"hi":0.36},
{"panel":"varbasic, Ln_RGGI, Ln_RGGI","step":13,"irf":0.2,"lo":0.05,"hi":0.34},
{"panel":"varbasic, Ln_RGGI, Ln_RGGI","step":14,"irf":0.19,"lo":0.03,"hi":0.32},
{"panel":"varbasic, Ln_RGGI, Ln_RGGI","step":15,"irf":0.18,"lo":0.02,"hi":0.31},
{"panel":"varbasic, Ln_RGGI, Ln_RGGI","step":16,"irf":0.18,"lo":0.02,"hi":0.3},
{"panel":"varbasic, Ln_RGGI, Ln_RGGI","step":17,"irf":0.16,"lo":0.02,"hi":0.29},
{"panel":"varbasic, Ln_RGGI, Ln_RGGI","step":18,"irf":0.16,"lo":0.02,"hi":0.28},
{"panel":"varbasic, Ln_RGGI, Ln_RGGI","step":19,"irf":0.16,"lo":0.02,"hi":0.28},
{"panel":"varbasic, Ln_RGGI, Ln_RGGI","step":20,"irf":0.16,"lo":-0.01,"hi":0.27},
{"panel":"varbasic, Ln_RGGI, Ln_RGGI","step":21,"irf":0.13,"lo":-0.01,"hi":0.27},
{"panel":"varbasic, Ln_RGGI, Ln_RGGI","step":22,"irf":0.13,"lo":-0.01,"hi":0.27},
{"panel":"varbasic, Ln_RGGI, Ln_RGGI","step":23,"irf":0.13,"lo":-0.01,"hi":0.27},
{"panel":"varbasic, Ln_RGGI, Ln_RGGI","step":24,"irf":0.13,"lo":-0.01,"hi":0.27}
]},
"facet": {"field": "panel", "type": "nominal", "title": "step",
  "header": {"labels": false, "labelExpr": "''", "labelFontSize": 0, "labelPadding": 0, "titleOrient": "bottom", "titleAnchor": "middle", "titleFont": "DejaVu Sans Condensed, DejaVu Sans, sans-serif", "titleFontSize": 28.7, "titleFontWeight": "normal", "titleColor": "#000000", "titlePadding": 22}},
"columns": 4,
"spacing": {"row": 27.6, "column": 19.3},
"spec": {
  "width": 238.7,
  "height": 194,
  "layer": [
    {
      "mark": {"type": "area", "fill": "#C0C0C0", "opacity": 1},
      "encoding": {
        "x": {"field": "step", "type": "quantitative", "scale": {"domain": [-1.12, 31], "nice": false, "zero": false}, "axis": {"values": [0, 10, 20, 30], "title": null}},
        "y": {"field": "lo", "type": "quantitative", "scale": {"domain": [-1.565, 1.822], "nice": false, "zero": false}, "axis": {"values": [-1, 0, 1], "title": null, "labelExpr": "'' + datum.value"}},
        "y2": {"field": "hi"}
      }
    },
    {
      "mark": {"type": "line", "stroke": "#1A476F", "strokeWidth": 1.7},
      "encoding": {
        "x": {"field": "step", "type": "quantitative"},
        "y": {"field": "irf", "type": "quantitative"}
      }
    },
    {
      "transform": [{"filter": "datum.step == 0"}],
      "mark": {"type": "point", "opacity": 0},
      "encoding": {
        "x": {"datum": 0}, "y": {"datum": 0},
        "shape": {"datum": "95% CI", "type": "nominal",
          "scale": {"domain": ["95% CI", "impulse response function (irf)"], "range": ["M-1,-0.4H1V0.4H-1Z", "M-1,0H1"]},
          "legend": {"title": null, "orient": "none", "legendX": 94, "legendY": 963, "direction": "horizontal", "symbolSize": 11449, "symbolStrokeWidth": 2.5, "symbolOpacity": 1, "clipHeight": 43, "labelFont": "DejaVu Sans Condensed, DejaVu Sans, sans-serif", "labelFontSize": 27.6, "labelColor": "#000000", "labelLimit": 1000, "labelOffset": 16, "columnPadding": 44, "padding": 16, "strokeColor": "#000000", "fillColor": "#FFFFFF"}},
        "fill": {"datum": "95% CI", "type": "nominal",
          "scale": {"domain": ["95% CI", "impulse response function (irf)"], "range": ["#C0C0C0", "transparent"]},
          "legend": {"title": null, "orient": "none", "legendX": 94, "legendY": 963, "direction": "horizontal", "symbolSize": 11449, "symbolStrokeWidth": 2.5, "symbolOpacity": 1, "clipHeight": 43, "labelFont": "DejaVu Sans Condensed, DejaVu Sans, sans-serif", "labelFontSize": 27.6, "labelColor": "#000000", "labelLimit": 1000, "labelOffset": 16, "columnPadding": 44, "padding": 16, "strokeColor": "#000000", "fillColor": "#FFFFFF"}},
        "stroke": {"datum": "95% CI", "type": "nominal",
          "scale": {"domain": ["95% CI", "impulse response function (irf)"], "range": ["#C0C0C0", "#1A476F"]},
          "legend": {"title": null, "orient": "none", "legendX": 94, "legendY": 963, "direction": "horizontal", "symbolSize": 11449, "symbolStrokeWidth": 2.5, "symbolOpacity": 1, "clipHeight": 43, "labelFont": "DejaVu Sans Condensed, DejaVu Sans, sans-serif", "labelFontSize": 27.6, "labelColor": "#000000", "labelLimit": 1000, "labelOffset": 16, "columnPadding": 44, "padding": 16, "strokeColor": "#000000", "fillColor": "#FFFFFF"}}
      }
    },
    {
      "transform": [{"filter": "datum.step == 0"}],
      "mark": {"type": "point", "opacity": 0},
      "encoding": {
        "x": {"datum": 0}, "y": {"datum": 0},
        "shape": {"datum": "impulse response function (irf)", "type": "nominal",
          "legend": {"title": null, "orient": "none", "legendX": 94, "legendY": 963, "direction": "horizontal", "symbolSize": 11449, "symbolStrokeWidth": 2.5, "symbolOpacity": 1, "clipHeight": 43, "labelFont": "DejaVu Sans Condensed, DejaVu Sans, sans-serif", "labelFontSize": 27.6, "labelColor": "#000000", "labelLimit": 1000, "labelOffset": 16, "columnPadding": 44, "padding": 16, "strokeColor": "#000000", "fillColor": "#FFFFFF"}},
        "fill": {"datum": "impulse response function (irf)", "type": "nominal",
          "legend": {"title": null, "orient": "none", "legendX": 94, "legendY": 963, "direction": "horizontal", "symbolSize": 11449, "symbolStrokeWidth": 2.5, "symbolOpacity": 1, "clipHeight": 43, "labelFont": "DejaVu Sans Condensed, DejaVu Sans, sans-serif", "labelFontSize": 27.6, "labelColor": "#000000", "labelLimit": 1000, "labelOffset": 16, "columnPadding": 44, "padding": 16, "strokeColor": "#000000", "fillColor": "#FFFFFF"}},
        "stroke": {"datum": "impulse response function (irf)", "type": "nominal",
          "legend": {"title": null, "orient": "none", "legendX": 94, "legendY": 963, "direction": "horizontal", "symbolSize": 11449, "symbolStrokeWidth": 2.5, "symbolOpacity": 1, "clipHeight": 43, "labelFont": "DejaVu Sans Condensed, DejaVu Sans, sans-serif", "labelFontSize": 27.6, "labelColor": "#000000", "labelLimit": 1000, "labelOffset": 16, "columnPadding": 44, "padding": 16, "strokeColor": "#000000", "fillColor": "#FFFFFF"}}
      }
    },
    {
      "transform": [{"filter": "datum.step == 0"}],
      "mark": {"type": "rect", "fill": "#D9E6EB"},
      "encoding": {"x": {"datum": -1.12}, "x2": {"datum": 31}, "y": {"datum": 1.355}, "y2": {"datum": 1.822}}
    },
    {
      "transform": [{"filter": "datum.step == 0"}],
      "mark": {"type": "text", "font": "DejaVu Sans Condensed, DejaVu Sans, sans-serif", "fontSize": 15, "color": "#111111", "baseline": "middle"},
      "encoding": {"x": {"datum": 14.94}, "y": {"datum": 1.5885}, "text": {"field": "panel"}}
    },
    {
      "transform": [{"filter": "datum.step == 0 && slice(datum.panel, -7) == 'Ln_COAL'"}],
      "mark": {"type": "rule", "color": "#000000", "strokeWidth": 1.5},
      "encoding": {"x": {"datum": -1.12}, "y": {"datum": -1.565}, "y2": {"datum": 1.355}}
    }
  ]
},
"config": {
  "view": {"fill": "#FFFFFF", "stroke": null},
  "axisX": {"grid": false, "domainColor": "#000000", "domainWidth": 1.5, "tickColor": "#000000", "tickSize": 5, "labelFont": "DejaVu Sans Condensed, DejaVu Sans, sans-serif", "labelFontSize": 14, "labelColor": "#000000", "labelPadding": 8},
  "axisY": {"grid": true, "gridColor": "#EAF2F3", "gridWidth": 1.5, "domain": false, "tickColor": "#000000", "tickSize": 5, "labelFont": "DejaVu Sans Condensed, DejaVu Sans, sans-serif", "labelFontSize": 13, "labelColor": "#000000", "labelPadding": 7}
}
}
